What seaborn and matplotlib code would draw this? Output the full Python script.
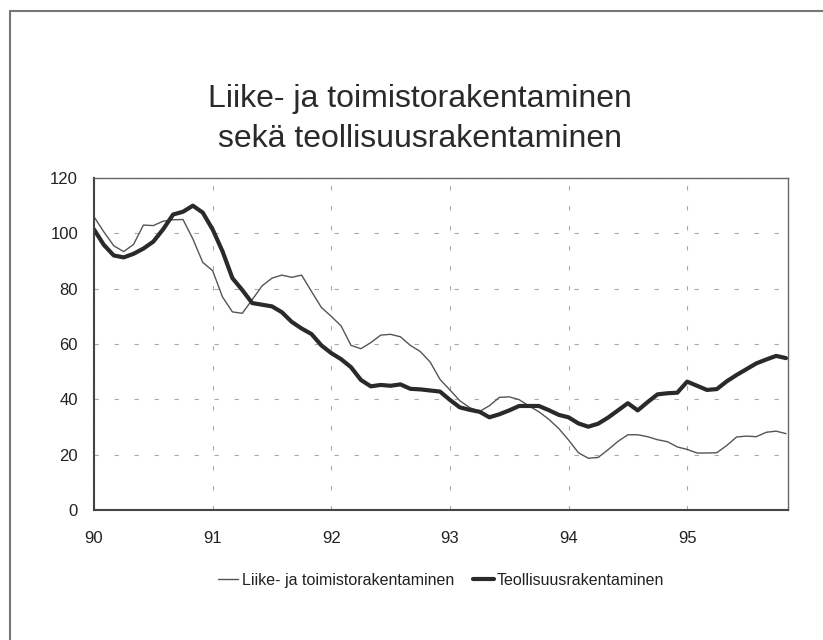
import numpy as np
import pandas as pd
import matplotlib
matplotlib.use("Agg")
import matplotlib.pyplot as plt
from matplotlib.lines import Line2D
from matplotlib.ticker import MultipleLocator
import seaborn as sns

# monthly index values, Jan 1990 - Nov 1995
months = np.arange(71)
liike = [106, 100.5, 95.5, 93.4, 96, 103, 102.8, 104.4, 104.9, 105, 98, 89.5,
         86.5, 77, 71.6, 71.1, 76, 81, 83.8, 84.9, 84.1, 84.9, 79, 73.2,
         70, 66.5, 59.5, 58.3, 60.5, 63.2, 63.5, 62.6, 59.5, 57.3, 53.5, 47.2,
         43.4, 39.5, 37, 35.6, 37.7, 40.7, 40.9, 39.9, 37.6, 35.5, 32.8, 29.5,
         25.3, 20.7, 18.7, 19, 21.8, 24.8, 27.2, 27.2, 26.5, 25.4, 24.7, 22.8,
         21.9, 20.6, 20.6, 20.7, 23.3, 26.4, 26.7, 26.5, 28.1, 28.5, 27.6]
teoll = [101.4, 95.8, 92, 91.3, 92.6, 94.5, 97, 101.5, 106.8, 107.8, 110, 107.5,
         101.4, 93.5, 83.8, 79.5, 74.8, 74.2, 73.6, 71.5, 68, 65.6, 63.6, 59.5,
         56.7, 54.5, 51.6, 47, 44.7, 45.2, 44.9, 45.4, 43.8, 43.6, 43.2, 42.8,
         39.8, 37.1, 36.2, 35.5, 33.5, 34.6, 36, 37.6, 37.6, 37.6, 36.1, 34.4,
         33.5, 31.3, 30.1, 31.2, 33.4, 36, 38.6, 36, 39, 41.8, 42.2, 42.4,
         46.4, 44.9, 43.4, 43.7, 46.5, 48.8, 50.9, 53, 54.4, 55.7, 54.9]
years = [90, 91, 92, 93, 94, 95]

df = pd.DataFrame({"x": 90 + months / 12, "liike": liike, "teoll": teoll})

sns.set_style("white")
plt.rcParams["font.family"] = ["Liberation Sans", "DejaVu Sans"]

fig = plt.figure(figsize=(8.23, 6.4), dpi=100)
ax = fig.add_axes([94 / 823, 1 - 510 / 640, (788 - 94) / 823, (510 - 178) / 640])

sns.lineplot(data=df, x="x", y="liike", ax=ax, color="#555555", linewidth=1.0,
             label="Liike- ja toimistorakentaminen")
sns.lineplot(data=df, x="x", y="teoll", ax=ax, color="#2a2a2a", linewidth=3.0,
             label="Teollisuusrakentaminen")

ax.set_xlim(90, 95.85)
ax.set_ylim(0, 120)
ax.set_xticks(years)
ax.set_xticklabels([str(y) for y in years])
ax.yaxis.set_major_locator(MultipleLocator(20))
ax.yaxis.set_minor_locator(MultipleLocator(5))
ax.set_xlabel("")
ax.set_ylabel("")
ax.grid(True, which="major", color="#aaaaaa", linestyle=(0, (4, 14)), linewidth=0.8)
ax.tick_params(axis="both", which="major", direction="out", length=8, width=0.8,
               color="#555555", labelsize=12, labelcolor="#222222")
ax.tick_params(axis="y", which="minor", direction="out", length=4, width=0.6, color="#777777")
ax.tick_params(axis="x", pad=7)
for side in ["left", "bottom"]:
    ax.spines[side].set_color("#444444")
    ax.spines[side].set_linewidth(1.5)
for side in ["top", "right"]:
    ax.spines[side].set_color("#666666")
    ax.spines[side].set_linewidth(1.0)

ax.legend(loc="upper center", bbox_to_anchor=(0.5, -0.145), ncol=2, frameon=False,
          fontsize=11.5, handlelength=1.3, handletextpad=0.2, columnspacing=1.2,
          labelcolor="#222222")

fig.text(0.51, 1 - 99 / 640, "Liike- ja toimistorakentaminen", ha="center", va="center",
         fontsize=23, color="#2a2a2a")
fig.text(0.51, 1 - 139 / 640, "sekä teollisuusrakentaminen", ha="center", va="center",
         fontsize=23, color="#2a2a2a")

# partial page frame
fig.add_artist(Line2D([10 / 823, 10 / 823], [0, 1 - 11 / 640], color="#777777", linewidth=1.5))
fig.add_artist(Line2D([10 / 823, 1], [1 - 11 / 640, 1 - 11 / 640], color="#777777", linewidth=1.5))

fig.savefig("out.png", dpi=100, facecolor="white")
